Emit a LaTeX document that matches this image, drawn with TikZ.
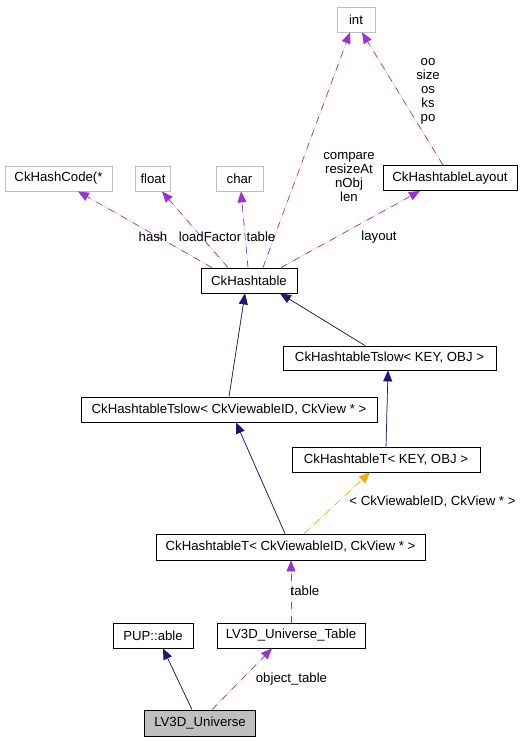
\documentclass[tikz,border=0pt]{standalone}
\usepackage{fontspec}
\setmainfont{Liberation Sans}
\usetikzlibrary{arrows.meta}
\definecolor{edgepurple}{RGB}{154,50,205}
\definecolor{edgenavy}{RGB}{25,25,112}
\definecolor{edgeorange}{RGB}{255,165,0}
\definecolor{boxgray}{RGB}{191,191,191}
\tikzset{
  cls/.style={draw=black, line width=0.8pt, inner sep=0pt, minimum height=25pt, font=\fontsize{13.2}{14}\selectfont},
  ext/.style={cls, draw=boxgray},
  lbl/.style={inner sep=0pt, align=center, font=\fontsize{13.2}{14}\selectfont},
  tip/.style={-{Triangle[length=11pt,width=9pt]}},
  usage/.style={tip, draw=edgepurple, fill=edgepurple, line width=0.7pt, dash pattern=on 7pt off 7pt},
  inherit/.style={tip, draw=edgenavy, fill=edgenavy, line width=0.7pt},
  tmpl/.style={tip, draw=edgeorange, fill=edgeorange, line width=0.7pt, dash pattern=on 7pt off 7pt},
}
\begin{document}
\begin{tikzpicture}[x=1pt,y=-1pt]
\useasboundingbox (0,0) rectangle (521,741);
% nodes
\node[ext, minimum width=38pt] (int) at (356,19.5) {int};
\node[ext, minimum width=107pt] (hashcode) at (58.5,178.5) {CkHashCode(*};
\node[ext, minimum width=35pt] (float) at (153,178.5) {float};
\node[ext, minimum width=47pt] (char) at (239.5,178.5) {char};
\node[cls, minimum width=134pt] (layout) at (450,178) {CkHashtableLayout};
\node[cls, minimum width=96pt] (ckh) at (249,280.5) {CkHashtable};
\node[cls, minimum width=213pt, minimum height=24pt] (tslowkey) at (389.5,358) {CkHashtableTslow< KEY, OBJ >};
\node[cls, minimum width=296pt] (tslowckv) at (229,409.5) {CkHashtableTslow< CkViewableID, CkView * >};
\node[cls, minimum width=188pt] (tkey) at (386,459.5) {CkHashtableT< KEY, OBJ >};
\node[cls, minimum width=269pt, minimum height=26pt] (tckv) at (290.5,547) {CkHashtableT< CkViewableID, CkView * >};
\node[cls, minimum width=80pt] (pup) at (153,635.5) {PUP::able};
\node[cls, minimum width=148pt] (uvtable) at (291,635.5) {LV3D\_Universe\_Table};
\node[cls, fill=boxgray, minimum width=111pt, minimum height=26pt] (universe) at (200,723) {LV3D\_Universe};
% usage edges from CkHashtable
\draw[usage] ([xshift=-37pt]ckh.north) -- ([xshift=19.5pt]hashcode.south);
\draw[usage] ([xshift=-21pt]ckh.north) -- ([xshift=9pt]float.south);
\draw[usage] ([xshift=-1pt]ckh.north) -- ([xshift=1.5pt]char.south);
\draw[usage] ([xshift=14pt]ckh.north) -- ([xshift=-6pt]int.south);
\draw[usage] ([xshift=32pt]ckh.north) -- ([xshift=-30pt]layout.south);
\draw[usage] ([xshift=-7pt]layout.north) -- ([xshift=6pt]int.south);
% inheritance
\draw[inherit] ([xshift=-24.5pt]tslowkey.north) -- ([xshift=31pt]ckh.south);
\draw[inherit] (tslowckv.north) -- ([xshift=-4pt]ckh.south);
\draw[inherit] (tkey.north) -- ([xshift=-1.5pt]tslowkey.south);
\draw[inherit] ([xshift=-5.5pt]tckv.north) -- ([xshift=7pt]tslowckv.south);
\draw[tmpl] ([xshift=13.5pt]tckv.north) -- ([xshift=-16pt]tkey.south);
\draw[usage] (uvtable.north) -- ([xshift=0.5pt]tckv.south);
\draw[inherit] ([xshift=-8pt]universe.north) -- ([xshift=10pt]pup.south);
\draw[usage] ([xshift=12pt]universe.north) -- ([xshift=-19pt]uvtable.south);
% labels
\node[lbl] (lcmp) at (349,177.5) {compare\\resizeAt\\nObj\\len};
\node[lbl] (loo) at (428,91) {oo\\size\\os\\ks\\po};
\node[lbl] (lhash) at (153,237) {hash};
\node[lbl] (lload) at (210,237) {loadFactor};
\node[lbl] (ltable) at (261,237) {table};
\node[lbl] (llayout) at (379,237) {layout};
\node[lbl] (ltmpl) at (432.5,502) {< CkViewableID, CkView * >};
\node[lbl] (ltable2) at (305,591) {table};
\node[lbl] (lobj) at (291.5,679) {object\_table};
\end{tikzpicture}
\end{document}
